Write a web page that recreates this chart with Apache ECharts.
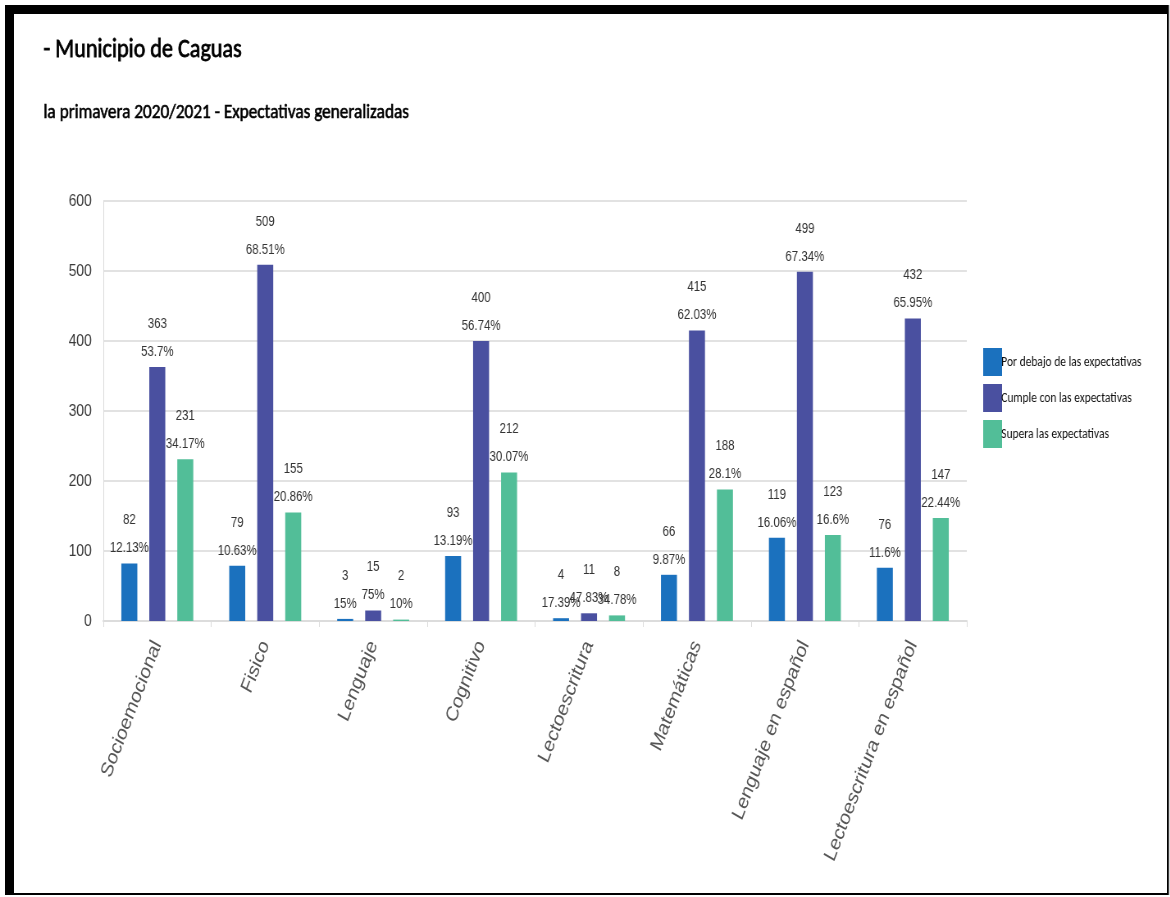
<!DOCTYPE html>
<html>
<head>
<meta charset="utf-8">
<title>Municipio de Caguas</title>
<script src="https://cdn.jsdelivr.net/npm/echarts@6/dist/echarts.min.js"></script>
<style>
  html, body { margin: 0; padding: 0; background: #fff; overflow: hidden; }
  #wrap { width: 1170px; height: 897px; overflow: hidden; position: relative; }
  /* la captura original está comprimida en horizontal */
  #chart { width: 1427px; height: 897px; transform: scaleX(0.82); transform-origin: 0 0; }
</style>
</head>
<body>
<div id="wrap"><div id="chart"></div></div>
<script>
const categories = ['Socioemocional', 'Fisico', 'Lenguaje', 'Cognitivo', 'Lectoescritura', 'Matemáticas', 'Lenguaje en español', 'Lectoescritura en español']
const porDebajo = [82, 79, 3, 93, 4, 66, 119, 76]
const cumple = [363, 509, 15, 400, 11, 415, 499, 432]
const supera = [231, 155, 2, 212, 8, 188, 123, 147]
const porDebajoPct = ['12.13%', '10.63%', '15%', '13.19%', '17.39%', '9.87%', '16.06%', '11.6%']
const cumplePct = ['53.7%', '68.51%', '75%', '56.74%', '47.83%', '62.03%', '67.34%', '65.95%']
const superaPct = ['34.17%', '20.86%', '10%', '30.07%', '34.78%', '28.1%', '16.6%', '22.44%']
const seriesNames = ['Por debajo de las expectativas', 'Cumple con las expectativas', 'Supera las expectativas']
const yTicks = [0, 100, 200, 300, 400, 500, 600]

const sans = "'Liberation Sans', Arial, sans-serif"
const calibri = "Carlito, Lato, 'Open Sans', sans-serif"
const colors = ['#1b71be', '#4a50a0', '#52be98']

function makeSeries(name, values, pcts, color) {
  return {
    name,
    type: 'bar',
    data: values,
    barWidth: 19.5,
    barGap: '75%',
    itemStyle: { color },
    label: {
      show: true,
      position: 'top',
      distance: 1,
      // valor arriba, porcentaje debajo
      formatter: p => '{v|' + p.value + '}\n{p|' + pcts[p.dataIndex] + '}',
      rich: {
        v: { fontFamily: sans, fontSize: 14, color: '#333', lineHeight: 28 },
        p: { fontFamily: sans, fontSize: 14, color: '#333', lineHeight: 28 }
      }
    }
  }
}

const chart = echarts.init(document.getElementById('chart'))
const option = {
  backgroundColor: '#fff',
  animation: false,
  color: colors,
  title: [
    {
      text: '- Municipio de Caguas',
      left: 48,
      top: 32,
      textStyle: { fontFamily: calibri, fontSize: 27, fontWeight: 'normal', color: '#000', textBorderColor: '#000', textBorderWidth: 0.8 }
    },
    {
      text: 'la primavera 2020/2021 - Expectativas generalizadas',
      left: 48,
      top: 97,
      textStyle: { fontFamily: calibri, fontSize: 21, fontWeight: 'normal', color: '#000', textBorderColor: '#000', textBorderWidth: 0.6 }
    }
  ],
  legend: {
    orient: 'vertical',
    left: 1194,
    top: 343,
    itemWidth: 23,
    itemHeight: 28,
    itemGap: 8,
    icon: 'rect',
    data: seriesNames,
    textStyle: { fontFamily: calibri, fontSize: 14, color: '#111', padding: [0, 0, 0, -6] }
  },
  grid: {
    left: 126,
    right: 248,
    top: 201,
    bottom: 276,
    containLabel: false
  },
  xAxis: {
    type: 'category',
    data: categories,
    axisLine: { lineStyle: { color: '#dcdcdc', width: 2 } },
    axisTick: { show: true, length: 6, lineStyle: { color: '#dcdcdc' } },
    axisLabel: {
      rotate: 65,
      margin: 21,
      fontFamily: sans,
      fontSize: 21,
      color: '#555'
    }
  },
  yAxis: {
    type: 'value',
    min: yTicks[0],
    max: yTicks[yTicks.length - 1],
    interval: yTicks[1] - yTicks[0],
    axisLine: { show: true, lineStyle: { color: '#dcdcdc' } },
    axisTick: { show: false },
    axisLabel: { margin: 14, fontFamily: sans, fontSize: 17, color: '#3a3a3a' },
    splitLine: { lineStyle: { color: '#e2e2e2', width: 2 } }
  },
  series: [
    makeSeries(seriesNames[0], porDebajo, porDebajoPct, colors[0]),
    makeSeries(seriesNames[1], cumple, cumplePct, colors[1]),
    makeSeries(seriesNames[2], supera, superaPct, colors[2])
  ],
  graphic: [
    // marco negro de la captura
    { type: 'rect', left: 6, top: 5, shape: { width: 1419, height: 9 }, style: { fill: '#000' }, z: 100 },
    { type: 'rect', left: 6, top: 5, shape: { width: 11, height: 890 }, style: { fill: '#000' }, z: 100 },
    { type: 'rect', left: 1423, top: 5, shape: { width: 2.5, height: 890 }, style: { fill: '#000' }, z: 100 },
    { type: 'rect', left: 6, top: 893, shape: { width: 1419, height: 2 }, style: { fill: '#000' }, z: 100 }
  ]
}
chart.setOption(option)
</script>
</body>
</html>
